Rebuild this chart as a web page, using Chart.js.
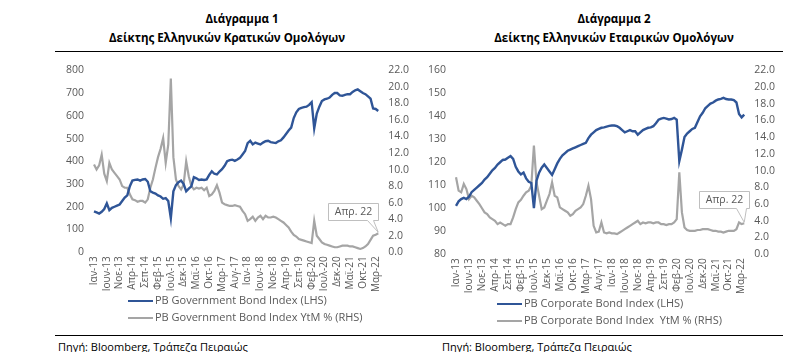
<!DOCTYPE html>
<html>
<head>
<meta charset="utf-8">
<script src="https://cdn.jsdelivr.net/npm/chart.js@4.4.1/dist/chart.umd.min.js"></script>
<style>
  body { margin: 0; width: 790px; height: 352px; background: #fff; font-family: 'Open Sans', sans-serif; position: relative; overflow: hidden; }
  .title { position: absolute; font-weight: bold; font-size: 11.5px; color: #000; white-space: nowrap; transform: translateX(-50%); line-height: 14px; }
  .rule { position: absolute; left: 55px; width: 728px; height: 1px; background: #000; }
  .legend { position: absolute; font-size: 11px; color: #595959; }
  .legend div { height: 17px; line-height: 17px; white-space: nowrap; }
  .legend span { display: inline-block; width: 25px; height: 2px; vertical-align: middle; margin-right: 2px; }
  .source { position: absolute; font-size: 11px; color: #000; line-height: 14px; white-space: nowrap; }
  canvas { position: absolute; }
</style>
</head>
<body>

<div class="title" style="left:242px; top:12px;">Διάγραμμα 1</div>
<div class="title" style="left:227px; top:31px;">Δείκτης Ελληνικών Κρατικών Ομολόγων</div>
<div class="title" style="left:614px; top:12px;">Διάγραμμα 2</div>
<div class="title" style="left:614px; top:31px;">Δείκτης Ελληνικών Εταιρικών Ομολόγων</div>
<div class="rule" style="top:51px;"></div>

<canvas id="govChart" width="372" height="242" style="left:55px; top:54px;"></canvas>
<canvas id="corpChart" width="372" height="244" style="left:418px; top:54px;"></canvas>

<div class="legend" style="left:128px; top:291px;">
  <div><span style="background:#2F5597"></span>PB Government Bond Index (LHS)</div>
  <div><span style="background:#A5A5A5"></span>PB Government Bond Index YtM % (RHS)</div>
</div>
<div class="legend" style="left:497px; top:294px;">
  <div><span style="background:#2F5597"></span>PB Corporate Bond Index (LHS)</div>
  <div><span style="background:#A5A5A5"></span>PB Corporate Bond Index &nbsp;YtM % (RHS)</div>
</div>

<div class="rule" style="top:335px;"></div>
<div class="source" style="left:58px; top:340px;">Πηγή: Bloomberg, Τράπεζα Πειραιώς</div>
<div class="source" style="left:442px; top:340px;">Πηγή: Bloomberg, Τράπεζα Πειραιώς</div>

<script>
// months Jan-13 .. Apr-22
const monthNames = ['Ιαν','Φεβ','Μαρ','Απρ','Μαϊ','Ιουν','Ιουλ','Αυγ','Σεπ','Οκτ','Νοε','Δεκ'];
const months = [];
for (let y = 13; y <= 22; y++) {
    for (let m = 0; m < 12; m++) {
        if (y === 22 && m > 3) break;
        months.push(monthNames[m] + '-' + y);
    }
}

// Διάγραμμα 1
const govIndex = [
    180,175,170,178,190,215,185,195,200,205,210,225,
    240,250,290,315,318,320,315,320,322,310,268,262,
    258,250,245,235,238,225,150,268,295,308,315,300,
    268,280,290,330,325,318,320,318,320,340,356,345,
    342,355,365,380,400,405,407,402,408,415,430,445,
    480,490,474,482,478,474,482,488,490,484,482,480,
    488,492,505,520,535,548,590,615,630,635,638,640,
    648,660,545,610,640,665,672,675,680,692,700,700,
    690,688,692,695,695,705,712,716,708,700,695,685,
    675,632,630,621
];
const govYield = [
    10.6,10.0,10.5,11.8,9.5,8.6,10.8,10.0,9.6,9.2,8.8,8.0,
    7.8,7.8,7.0,6.4,6.3,6.1,6.2,6.2,6.0,6.4,7.8,8.8,
    10.2,11.5,12.5,13.8,10.8,13.0,21.0,11.5,8.8,8.0,7.6,8.2,
    11.0,9.2,8.0,7.6,7.8,7.7,7.8,7.5,7.8,6.8,7.0,7.4,
    8.1,7.2,6.0,5.8,5.7,5.6,5.6,5.7,5.6,5.5,5.0,4.6,
    3.8,4.0,4.3,3.8,4.2,4.4,4.0,4.4,4.2,4.2,4.3,4.2,
    4.0,3.8,3.6,3.3,3.0,2.5,2.1,1.9,1.6,1.5,1.4,1.3,
    1.2,1.1,3.8,2.0,1.6,1.2,1.0,0.9,0.8,0.7,0.6,0.6,
    0.7,0.8,0.8,0.8,0.7,0.7,0.6,0.5,0.4,0.5,0.7,1.0,
    1.5,2.0,2.1,2.3
];

// Διάγραμμα 2
const corpIndex = [
    101,103,104,104.5,104,105,107,108,109,110,111,112.5,
    113.5,115,116.5,117.5,119,120,121,121.2,122,122.7,121.5,118,
    116,114.7,115.5,113,111.5,111,100,112,115.5,117.6,119,117.5,
    116,114.5,117,119.5,121.5,123,124,125,125.5,126,126.5,127,
    127.5,128,128.5,130.5,132,133,134,134.5,135,135.2,135.5,135.8,
    136,136,135.7,135,134,133,133.5,134,133.5,133.5,132,133,
    134,134.5,135,135.2,135.7,137,138.5,139,139.3,139,138.6,138.8,
    139.3,138.5,120.5,125.5,131,132.5,133.5,134.5,135,137.5,140,141.5,
    143.5,144.5,145.5,146,146.8,147.3,147.6,148,147.5,147.3,147.3,147,
    146,141,139.5,140.7
];
const corpYield = [
    9.2,7.6,7.4,8.4,7.8,6.6,7.0,6.8,6.4,6.0,5.5,5.0,
    4.8,4.4,4.2,4.0,3.6,3.8,3.6,3.4,3.6,3.6,4.4,5.4,
    6.2,6.5,7.0,7.4,7.6,8.2,13.0,8.6,7.0,5.4,5.6,6.4,
    7.2,8.6,7.0,6.8,5.6,5.4,5.2,5.0,4.6,4.8,5.2,5.4,
    5.6,6.0,7.0,8.2,6.6,3.4,2.6,2.7,3.8,2.6,2.5,2.6,
    2.5,2.5,2.4,2.6,2.8,3.0,3.2,3.4,3.6,3.8,4.0,3.6,
    3.8,3.7,3.8,3.8,3.7,3.8,3.8,3.6,3.6,3.5,3.6,3.6,
    3.8,4.2,9.8,5.0,3.2,2.9,2.8,2.8,2.8,2.9,2.9,3.0,
    3.0,3.0,2.9,2.8,2.8,2.7,2.7,2.6,2.7,2.8,2.8,2.8,
    3.0,3.8,3.6,3.7
];

const tickColor = '#595959';
const tickFont = { family: 'Open Sans', size: 10.5 };
const xTickFont = { family: 'Open Sans', size: 10 };

// "Απρ. 22" callout pointing to the last yield value
const calloutPlugin = {
    id: 'callout',
    afterDatasetsDraw(chart, args, opts) {
        const meta = chart.getDatasetMeta(1);
        const pt = meta.data[meta.data.length - 1];
        const ctx = chart.ctx;
        const w = 50, h = 17;
        const right = Math.round(pt.x + opts.dx) + 0.5;
        const bottom = Math.round(pt.y - opts.gap) + 0.5;
        const left = right - w, top = bottom - h;
        ctx.save();
        ctx.beginPath();
        ctx.moveTo(left, top);
        ctx.lineTo(right, top);
        ctx.lineTo(right, bottom);
        ctx.lineTo(right - opts.tailA, bottom);
        ctx.lineTo(pt.x, pt.y - 1);
        ctx.lineTo(right - opts.tailB, bottom);
        ctx.lineTo(left, bottom);
        ctx.closePath();
        ctx.fillStyle = '#fff';
        ctx.fill();
        ctx.strokeStyle = '#BFBFBF';
        ctx.lineWidth = 1;
        ctx.stroke();
        ctx.fillStyle = tickColor;
        ctx.font = '10.5px "Open Sans"';
        ctx.textAlign = 'center';
        ctx.textBaseline = 'middle';
        ctx.fillText(opts.text, (left + right) / 2, (top + bottom) / 2);
        ctx.restore();
    }
};

function makeChart(id, lhs, rhs, lhsMin, lhsMax, lhsStep, padding, callout) {
    const ctx = document.getElementById(id).getContext('2d');
    return new Chart(ctx, {
        type: 'line',
        data: {
            labels: months,
            datasets: [
                {
                    data: lhs,
                    yAxisID: 'y',
                    borderColor: '#2F5597',
                    borderWidth: 2.4,
                    pointRadius: 0,
                    fill: false
                },
                {
                    data: rhs,
                    yAxisID: 'y1',
                    borderColor: '#A5A5A5',
                    borderWidth: 2.2,
                    pointRadius: 0,
                    fill: false
                }
            ]
        },
        options: {
            responsive: false,
            animation: false,
            layout: { padding: padding },
            plugins: {
                legend: { display: false },
                tooltip: { enabled: false },
                callout: callout
            },
            scales: {
                x: {
                    grid: { display: false, drawTicks: false },
                    border: { display: false },
                    ticks: {
                        autoSkip: false,
                        minRotation: 90,
                        maxRotation: 90,
                        padding: 4,
                        color: tickColor,
                        font: xTickFont,
                        callback: function (v, i) {
                            return i % 5 === 0 ? this.getLabelForValue(v) : '';
                        }
                    }
                },
                y: {
                    position: 'left',
                    min: lhsMin,
                    max: lhsMax,
                    grid: { display: false, drawTicks: false },
                    border: { display: false },
                    ticks: { stepSize: lhsStep, padding: 10, color: tickColor, font: tickFont }
                },
                y1: {
                    position: 'right',
                    min: 0,
                    max: 22,
                    grid: { display: false, drawTicks: false },
                    border: { display: false },
                    ticks: {
                        stepSize: 2,
                        padding: 10,
                        color: tickColor,
                        font: tickFont,
                        callback: v => v.toFixed(1)
                    }
                }
            }
        },
        plugins: [calloutPlugin]
    });
}

makeChart('govChart', govIndex, govYield, 0, 800, 100,
    { left: 1, right: 8, top: 0, bottom: 0 },
    { text: 'Απρ. 22', dx: 0, gap: 13, tailA: 5, tailB: 11 });

makeChart('corpChart', corpIndex, corpYield, 80, 160, 10,
    { left: 0, right: 5, top: 0, bottom: 0 },
    { text: 'Απρ. 22', dx: 5, gap: 15, tailA: 3, tailB: 13 });
</script>
</body>
</html>
